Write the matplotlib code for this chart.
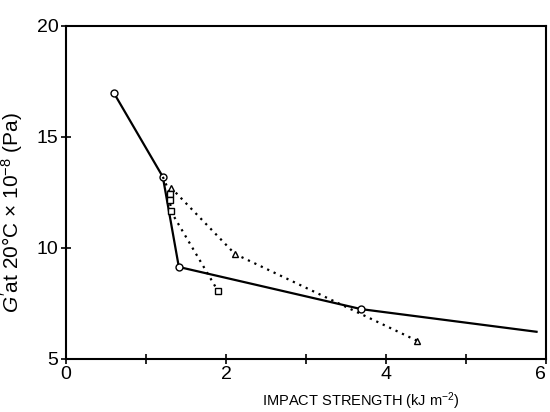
import matplotlib
matplotlib.use("Agg")
import matplotlib.pyplot as plt
from matplotlib import font_manager

# circles, solid line (last point has no marker)
circ_x = [0.6, 1.21, 1.41, 3.69, 5.88]
circ_y = [16.97, 13.2, 9.14, 7.24, 6.22]

# triangles, dotted
tri_x = [1.31, 2.11, 4.39]
tri_y = [12.72, 9.73, 5.81]

# squares, dotted (starts at the circle point)
sq_x = [1.21, 1.3, 1.3, 1.31, 1.9]
sq_y = [13.2, 12.45, 12.15, 11.65, 8.05]

names = {f.name for f in font_manager.fontManager.ttflist}
narrow = 'Liberation Sans'
for cand in ['Liberation Sans Narrow', 'DejaVu Sans Condensed']:
    if cand in names:
        narrow = cand
        break
plt.rcParams['font.family'] = [narrow, 'DejaVu Sans']
plt.rcParams['mathtext.fontset'] = 'custom'
plt.rcParams['mathtext.rm'] = narrow
plt.rcParams['mathtext.it'] = narrow + ':italic'

fig = plt.figure(figsize=(5.5, 4.12), dpi=100)
ax = fig.add_axes([0.12, 0.129, 0.873, 0.808])

ax.plot(circ_x, circ_y, color='black', lw=1.6, marker='o', ms=5,
        mfc='white', mec='black', mew=1.0, markevery=[0, 1, 2, 3], zorder=3)
ax.plot(tri_x, tri_y, color='black', lw=1.6, ls=(0, (1, 2.2)), marker='^', ms=5,
        mfc='white', mec='black', mew=1.0, zorder=3)
ax.plot(sq_x, sq_y, color='black', lw=1.6, ls=(0, (1, 2.2)), marker='s', ms=5,
        mfc='white', mec='black', mew=1.0, markevery=[1, 2, 3, 4], zorder=3)

ax.set_xlim(0, 6)
ax.set_ylim(5, 20)
ax.set_xticks([0, 2, 4, 6])
ax.set_xticklabels(['0', '2', '4', '6'])
ax.set_xticks([1, 3, 5], minor=True)
ax.set_yticks([5, 10, 15, 20])
ax.tick_params(axis='both', which='both', direction='inout', length=7, width=1.2,
               labelsize=14, pad=2)
ax.get_xticklabels()[-1].set_horizontalalignment('right')
for s in ax.spines.values():
    s.set_linewidth(1.5)

xfs = 13 if narrow != 'Liberation Sans' else 10.5
ax.set_xlabel('IMPACT STRENGTH (kJ m$^{-2}$)', fontsize=xfs, labelpad=1)
ax.xaxis.set_label_coords(0.615, -0.095)
ax.set_ylabel("$G'$at 20°C × 10$^{-8}$ (Pa)", fontsize=15, labelpad=4)
ax.yaxis.set_label_coords(-0.085, 0.44)

fig.savefig('out.png', dpi=100)
